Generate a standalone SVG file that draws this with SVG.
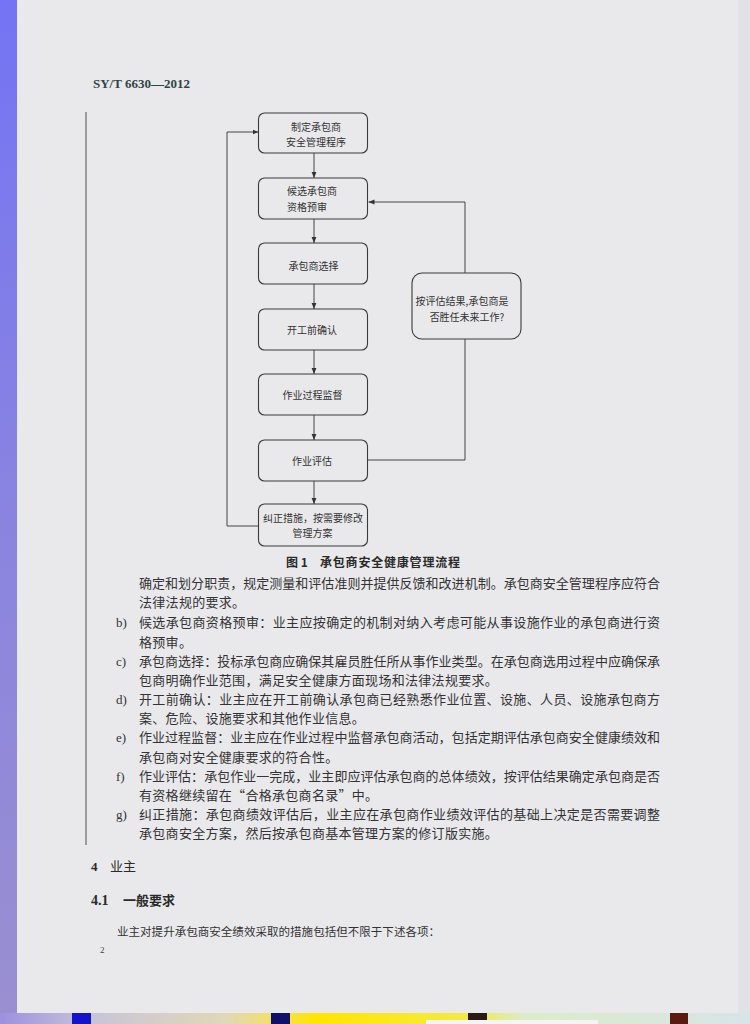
<svg xmlns="http://www.w3.org/2000/svg" width="750" height="1024" viewBox="0 0 750 1024">
<defs>
<linearGradient id="lband" x1="0" y1="0" x2="0" y2="1">
<stop offset="0" stop-color="#7474f4"/>
<stop offset="0.5" stop-color="#8a84e0"/>
<stop offset="1" stop-color="#9a8fd0"/>
</linearGradient>
<linearGradient id="bstrip" x1="0" y1="0" x2="1" y2="0">
<stop offset="0" stop-color="#9c90e0"/>
<stop offset="0.12" stop-color="#c8c4d8"/>
<stop offset="0.3" stop-color="#e0d8b8"/>
<stop offset="0.37" stop-color="#f6e060"/>
<stop offset="0.42" stop-color="#ffe600"/>
<stop offset="0.62" stop-color="#f4ea40"/>
<stop offset="0.7" stop-color="#dcecc8"/>
<stop offset="1" stop-color="#d8e4e8"/>
</linearGradient>
<marker id="ah" viewBox="0 0 10 10" refX="10" refY="5" markerWidth="6" markerHeight="6" orient="auto" markerUnits="userSpaceOnUse">
<path d="M0,1 L10,5 L0,9 Z" fill="#333"/>
</marker>
<style>
.node rect{fill:#e9e9ec;stroke:#3a3a3a;stroke-width:1.1}
.nt{font-family:"Noto Sans CJK SC","Noto Sans",sans-serif;font-size:10px;fill:#333;text-anchor:middle}
.conn path{fill:none;stroke:#444;stroke-width:1}
.body{font-family:"Noto Sans CJK SC",sans-serif;font-size:13px;fill:#333}
.lab{font-family:"Liberation Serif",serif;font-size:13px;fill:#333}
.hd{font-family:"Liberation Serif",serif;font-size:13px;font-weight:bold;fill:#2a2a2a}
.hdc{font-family:"Noto Sans CJK SC",sans-serif;font-size:13px;fill:#2a2a2a}
</style>
</defs>
<rect x="0" y="0" width="750" height="1024" fill="#e9e9ec"/>
<rect x="0" y="0" width="17" height="1024" fill="url(#lband)"/>
<rect x="738" y="0" width="12" height="1024" fill="#e2e2e6"/>
<rect x="0" y="1013" width="750" height="11" fill="url(#bstrip)"/>
<rect x="72" y="1013" width="19" height="11" fill="#1414cc"/>
<rect x="271" y="1013" width="19" height="11" fill="#10106a"/>
<rect x="468" y="1013" width="19" height="11" fill="#2a1a14"/>
<rect x="670" y="1013" width="18" height="11" fill="#5a1a10"/>
<rect x="426" y="1020" width="172" height="4" fill="#f4f4f4"/>

<text x="93" y="88" font-family="Liberation Serif,serif" font-size="13" font-weight="bold" fill="#2f4545">SY/T 6630—2012</text>
<line x1="86" y1="112" x2="86" y2="845" stroke="#4a5050" stroke-width="1"/>

<g id="connectors" class="conn">
<path d="M314,153 V178" marker-end="url(#ah)"/>
<path d="M314,219 V243" marker-end="url(#ah)"/>
<path d="M314,284 V309" marker-end="url(#ah)"/>
<path d="M314,350 V374" marker-end="url(#ah)"/>
<path d="M314,415 V440" marker-end="url(#ah)"/>
<path d="M314,481 V504" marker-end="url(#ah)"/>
<path d="M367.5,460 H465 V339"/>
<path d="M465,273 V202 H368.5" marker-end="url(#ah)"/>
<path d="M258.5,526 H227 V132 H258.5" marker-end="url(#ah)"/>
</g>

<g id="n1" class="node"><rect x="258.5" y="113" width="109" height="40" rx="6"/>
<text class="nt" x="316" y="130.5">制定承包商</text><text class="nt" x="316" y="145.5">安全管理程序</text></g>
<g id="n2" class="node"><rect x="258.5" y="178" width="109" height="41" rx="6"/>
<text class="nt" x="287" y="194.5" style="text-anchor:start">候选承包商</text><text class="nt" x="287" y="210.5" style="text-anchor:start">资格预审</text></g>
<g id="n3" class="node"><rect x="258.5" y="243" width="109" height="41" rx="6"/>
<text class="nt" x="313.5" y="269.5">承包商选择</text></g>
<g id="n4" class="node"><rect x="258.5" y="309" width="109" height="41" rx="6"/>
<text class="nt" x="312" y="333.5">开工前确认</text></g>
<g id="n5" class="node"><rect x="258.5" y="374" width="109" height="41" rx="6"/>
<text class="nt" x="312.5" y="398.5">作业过程监督</text></g>
<g id="n6" class="node"><rect x="258.5" y="440" width="109" height="41" rx="6"/>
<text class="nt" x="312" y="465">作业评估</text></g>
<g id="n7" class="node"><rect x="258.5" y="504" width="109" height="42" rx="6"/>
<text class="nt" x="313" y="522">纠正措施，按需要修改</text><text class="nt" x="312.5" y="537">管理方案</text></g>
<g id="n8" class="node"><rect x="412" y="273" width="109" height="66" rx="10"/>
<text class="nt" x="462" y="305">按评估结果,承包商是</text><text class="nt" x="467" y="321">否胜任未来工作?</text></g>

<g id="caption">
<text x="286" y="567" font-family="Noto Sans CJK SC,sans-serif" font-size="12" font-weight="bold" fill="#2a2a2a">图 1</text>
<text x="320" y="567" font-family="Noto Sans CJK SC,sans-serif" font-size="12" font-weight="bold" fill="#2a2a2a" textLength="140" lengthAdjust="spacing">承包商安全健康管理流程</text>
</g>

<g id="bodytext">
<text class="body" x="139" y="588" textLength="521" lengthAdjust="spacing">确定和划分职责，规定测量和评估准则并提供反馈和改进机制。承包商安全管理程序应符合</text>
<text class="body" x="139" y="607" letter-spacing="0.3">法律法规的要求。</text>
<text class="lab" x="116" y="627">b)</text>
<text class="body" x="139" y="627" textLength="521" lengthAdjust="spacing">候选承包商资格预审：业主应按确定的机制对纳入考虑可能从事设施作业的承包商进行资</text>
<text class="body" x="139" y="646.5" letter-spacing="0.3">格预审。</text>
<text class="lab" x="116" y="665.5">c)</text>
<text class="body" x="139" y="665.5" textLength="521" lengthAdjust="spacing">承包商选择：投标承包商应确保其雇员胜任所从事作业类型。在承包商选用过程中应确保承</text>
<text class="body" x="139" y="685" letter-spacing="0.3">包商明确作业范围，满足安全健康方面现场和法律法规要求。</text>
<text class="lab" x="116" y="704">d)</text>
<text class="body" x="139" y="704" textLength="521" lengthAdjust="spacing">开工前确认：业主应在开工前确认承包商已经熟悉作业位置、设施、人员、设施承包商方</text>
<text class="body" x="139" y="723" letter-spacing="0.3">案、危险、设施要求和其他作业信息。</text>
<text class="lab" x="116" y="742">e)</text>
<text class="body" x="139" y="742" textLength="521" lengthAdjust="spacing">作业过程监督：业主应在作业过程中监督承包商活动，包括定期评估承包商安全健康绩效和</text>
<text class="body" x="139" y="761.5" letter-spacing="0.3">承包商对安全健康要求的符合性。</text>
<text class="lab" x="116" y="780.5">f)</text>
<text class="body" x="139" y="780.5" textLength="521" lengthAdjust="spacing">作业评估：承包作业一完成，业主即应评估承包商的总体绩效，按评估结果确定承包商是否</text>
<text class="body" x="139" y="799.5" letter-spacing="0.3">有资格继续留在“合格承包商名录”中。</text>
<text class="lab" x="116" y="819">g)</text>
<text class="body" x="139" y="819" textLength="521" lengthAdjust="spacing">纠正措施：承包商绩效评估后，业主应在承包商作业绩效评估的基础上决定是否需要调整</text>
<text class="body" x="139" y="838" letter-spacing="0.3">承包商安全方案，然后按承包商基本管理方案的修订版实施。</text>
</g>

<g id="section4">
<text class="hd" x="91" y="871">4</text>
<text class="hdc" x="110" y="871">业主</text>
<text class="hd" x="91" y="905" style="font-size:14px">4.1</text>
<text class="hdc" x="123" y="905" style="font-weight:bold">一般要求</text>
<text class="body" x="117" y="936" style="font-size:11.5px" textLength="323" lengthAdjust="spacing">业主对提升承包商安全绩效采取的措施包括但不限于下述各项：</text>
<text x="100" y="953" font-family="Liberation Serif,serif" font-size="9" fill="#444">2</text>
</g>
</svg>
